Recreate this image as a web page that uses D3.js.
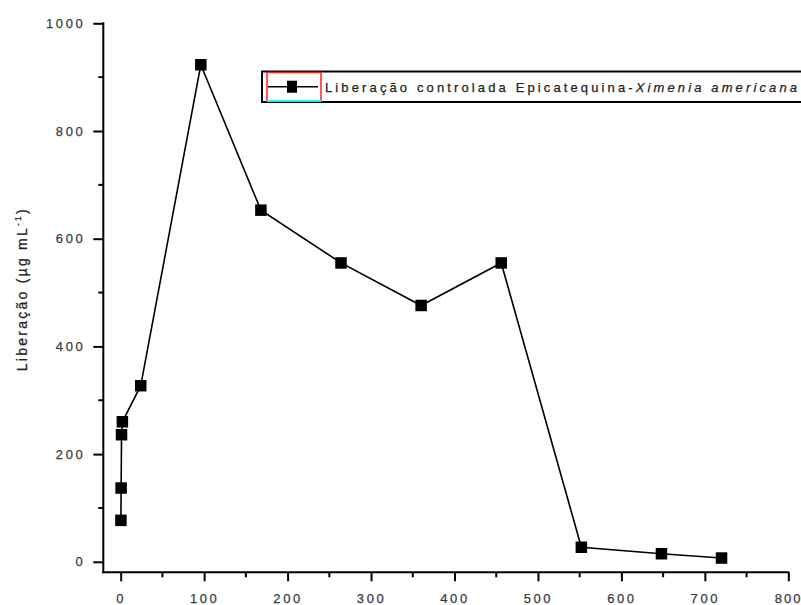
<!DOCTYPE html>
<html>
<head>
<meta charset="utf-8">
<script src="https://cdn.jsdelivr.net/npm/d3@7"></script>
<style>
  html, body { margin: 0; padding: 0; background: #fff; }
  svg { display: block; }
  text { font-family: "Liberation Sans", Arial, sans-serif; }
</style>
</head>
<body>
<svg id="chart" width="801" height="605"></svg>
<script>
// Release time (h) and released amount (µg mL-1)
const timeHours = [0.25, 0.5, 1, 2, 24, 96, 168, 264, 360, 456, 552, 648, 720];
const released = [77, 137, 236, 260, 327, 923, 653, 555, 476, 555, 27, 15, 7];
const xTicks = [0, 100, 200, 300, 400, 500, 600, 700, 800];
const yTicks = [0, 200, 400, 600, 800, 1000];
const seriesName = "Liberação controlada Epicatequina-";
const seriesItalic = "Ximenia americana";

const svg = d3.select("#chart");
const x = d3.scaleLinear().domain([0, 800]).range([120.7, 788.3]);
const y = d3.scaleLinear().domain([0, 1000]).range([561.8, 23.3]);

const axisLeftX = 103.3, axisBottomY = 572.3;
const labelColor = "#3a3a3a";
const tickSpacing = 2.6;
const width = 801;

// Spread a text element's characters so it spans the given width
function fitSpacing(sel, w) {
  const node = sel.node();
  sel.attr("letter-spacing", "0px");
  const natural = node.getComputedTextLength();
  const n = node.textContent.length;
  sel.attr("letter-spacing", ((w - natural) / Math.max(1, n - 1)) + "px");
}

// Minor ticks
const xMinor = d3.range(50, 800, 100);
const yMinor = d3.range(100, 1000, 200);

const gx = svg.append("g").attr("transform", `translate(0,${axisBottomY})`);
gx.call(d3.axisBottom(x).tickValues(xTicks).tickSize(9).tickSizeOuter(0).tickPadding(12).tickFormat(d3.format("d")));
gx.select(".domain").remove();
gx.selectAll(".tick line").attr("stroke", "#000").attr("stroke-width", 2);
gx.selectAll(".tick text").attr("font-size", 13).attr("fill", labelColor)
  .attr("stroke", labelColor).attr("stroke-width", 0.25)
  .attr("letter-spacing", tickSpacing + "px").attr("dy", "0.71em");
// keep the last label inside the page edge
gx.selectAll(".tick text").filter(d => d === 800)
  .attr("letter-spacing", "2px").attr("text-anchor", "end")
  .attr("x", width - 1 - x(800) + 2);
gx.selectAll(".minor").data(xMinor).enter().append("line")
  .attr("x1", d => x(d)).attr("x2", d => x(d)).attr("y1", 0).attr("y2", 5)
  .attr("stroke", "#000").attr("stroke-width", 2);

const gy = svg.append("g").attr("transform", `translate(${axisLeftX},0)`);
gy.call(d3.axisLeft(y).tickValues(yTicks).tickSize(10).tickSizeOuter(0).tickPadding(8).tickFormat(d3.format("d")));
gy.select(".domain").remove();
gy.selectAll(".tick line").attr("stroke", "#000").attr("stroke-width", 2);
gy.selectAll(".tick text").attr("font-size", 13).attr("fill", labelColor)
  .attr("stroke", labelColor).attr("stroke-width", 0.25)
  .attr("letter-spacing", tickSpacing + "px");
gy.selectAll(".minor").data(yMinor).enter().append("line")
  .attr("y1", d => y(d)).attr("y2", d => y(d)).attr("x1", 0).attr("x2", -5)
  .attr("stroke", "#000").attr("stroke-width", 2);

// Axis lines
svg.append("line").attr("x1", axisLeftX).attr("x2", axisLeftX)
  .attr("y1", y(1000) - 1).attr("y2", axisBottomY + 1)
  .attr("stroke", "#000").attr("stroke-width", 2);
svg.append("line").attr("x1", axisLeftX - 1).attr("x2", x(800) + 1)
  .attr("y1", axisBottomY).attr("y2", axisBottomY)
  .attr("stroke", "#000").attr("stroke-width", 2);

// Y axis title
const yTitle = svg.append("text")
  .attr("transform", "translate(26.5,207) rotate(-90)")
  .attr("text-anchor", "end")
  .attr("font-size", 14).attr("fill", "#222")
  .attr("stroke", "#222").attr("stroke-width", 0.25);
yTitle.append("tspan").text("Liberação (µg mL");
yTitle.append("tspan").attr("font-size", 8.5).attr("dy", -6).text("-1");
yTitle.append("tspan").attr("dy", 6).text(")");
fitSpacing(yTitle, 162);

// Series line and markers
const data = timeHours.map((t, i) => ({ t, v: released[i] }));
svg.append("path").datum(data)
  .attr("fill", "none").attr("stroke", "#000").attr("stroke-width", 1.6)
  .attr("d", d3.line().x(d => x(d.t)).y(d => y(d.v)));
const sz = 11.5;
svg.selectAll(".pt").data(data).enter().append("rect")
  .attr("x", d => x(d.t) - sz / 2).attr("y", d => y(d.v) - sz / 2)
  .attr("width", sz).attr("height", sz).attr("fill", "#000");

// Legend
const lg = svg.append("g");
lg.append("rect").attr("x", 262).attr("y", 71.5).attr("width", 560).attr("height", 30.5)
  .attr("fill", "#fff").attr("stroke", "#000").attr("stroke-width", 2);
lg.append("rect").attr("x", 267).attr("y", 72.5).attr("width", 54).attr("height", 28.5)
  .attr("fill", "none").attr("stroke", "#ff2020").attr("stroke-width", 1.5);
lg.append("line").attr("x1", 267).attr("x2", 321).attr("y1", 101).attr("y2", 101)
  .attr("stroke", "#20f0f0").attr("stroke-width", 2);
lg.append("line").attr("x1", 268).attr("x2", 318).attr("y1", 86.7).attr("y2", 86.7)
  .attr("stroke", "#000").attr("stroke-width", 1.6);
lg.append("rect").attr("x", 292 - 5).attr("y", 86.7 - 6).attr("width", 10).attr("height", 12).attr("fill", "#000");
const lt = lg.append("text").attr("x", 325).attr("y", 91.5)
  .attr("font-size", 13).attr("fill", "#222")
  .attr("stroke", "#222").attr("stroke-width", 0.25);
lt.append("tspan").text(seriesName);
lt.append("tspan").attr("font-style", "italic").text(seriesItalic);
fitSpacing(lt, 472);
</script>
</body>
</html>
